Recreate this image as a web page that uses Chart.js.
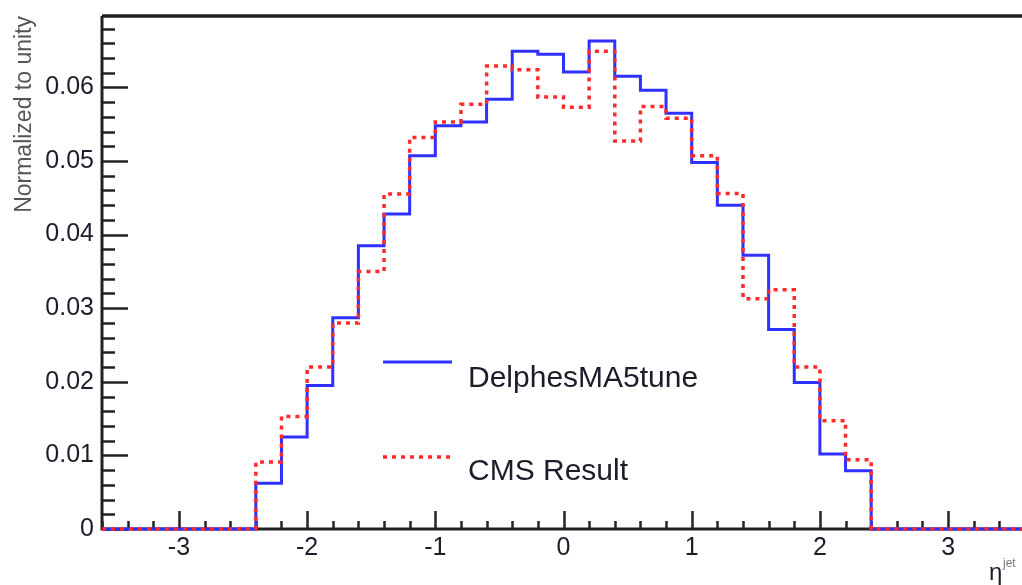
<!DOCTYPE html>
<html>
<head>
<meta charset="utf-8">
<script src="https://cdn.jsdelivr.net/npm/chart.js@4/dist/chart.umd.min.js"></script>
<style>
  html, body { margin: 0; padding: 0; background: #fff; overflow: hidden; }
  #wrap { width: 1022px; height: 585px; overflow: hidden; }
  canvas { display: block; }
</style>
</head>
<body>
<div id="wrap"><canvas id="histo" width="1030" height="585" style="width:1030px;height:585px"></canvas></div>
<script>
// eta bins, width 0.2, lower edges
const binLowEdges = [-2.4, -2.2, -2.0, -1.8, -1.6, -1.4, -1.2, -1.0, -0.8, -0.6, -0.4, -0.2,
                     0.0, 0.2, 0.4, 0.6, 0.8, 1.0, 1.2, 1.4, 1.6, 1.8, 2.0, 2.2];
const binUpperEdge = 2.4;

const delphes = [0.0062, 0.0125, 0.0195, 0.0287, 0.0385, 0.0428, 0.0507, 0.0548, 0.0553, 0.0584, 0.0649, 0.0645,
                 0.0621, 0.0663, 0.0615, 0.0596, 0.0565, 0.0498, 0.0440, 0.0372, 0.0271, 0.0199, 0.0102, 0.0079];
const cms = [0.0091, 0.0153, 0.0220, 0.0280, 0.0350, 0.0455, 0.0532, 0.0553, 0.0577, 0.0629, 0.0624, 0.0587,
             0.0573, 0.0649, 0.0527, 0.0574, 0.0558, 0.0507, 0.0456, 0.0313, 0.0325, 0.0220, 0.0147, 0.0094];

const xRange = [-3.6, 3.6];
const yRange = [0, 0.0697];
const xTickLabels = [-3, -2, -1, 0, 1, 2, 3];
const yTickLabels = [0, 0.01, 0.02, 0.03, 0.04, 0.05, 0.06];
const seriesNames = ["DelphesMA5tune", "CMS Result"];

const FONT = "'Liberation Sans', Arial, Helvetica, sans-serif";
const TEXT = "#1c1c2a";
const AXIS = "#222";

function histPoints(values) {
  const pts = [{ x: xRange[0], y: 0 }];
  binLowEdges.forEach((edge, i) => pts.push({ x: edge, y: values[i] }));
  pts.push({ x: binUpperEdge, y: 0 });
  pts.push({ x: xRange[1], y: 0 });
  return pts;
}

// ROOT-style frame: inward ticks, axis lines, legend, x title
const frame = {
  id: "frame",
  beforeDatasetsDraw(chart) {
    const { ctx, chartArea: a, scales: { x, y } } = chart;
    ctx.save();
    ctx.strokeStyle = AXIS;

    // minor + major ticks on y
    ctx.lineWidth = 2.5;
    for (let i = 0; i * 0.002 <= yRange[1] + 1e-9; i++) {
      const py = Math.round(y.getPixelForValue(i * 0.002)) + 0.5;
      const len = i % 5 === 0 ? 26 : 13;
      ctx.beginPath();
      ctx.moveTo(a.left, py);
      ctx.lineTo(a.left + len, py);
      ctx.stroke();
    }
    // minor + major ticks on x
    for (let i = 0; i <= 36; i++) {
      const v = xRange[0] + i * 0.2;
      const px = Math.round(x.getPixelForValue(v)) + 0.5;
      const major = Math.abs(v - Math.round(v)) < 1e-6;
      ctx.beginPath();
      ctx.moveTo(px, a.bottom);
      ctx.lineTo(px, a.bottom - (major ? 18 : 8));
      ctx.stroke();
    }

    // frame lines
    ctx.lineWidth = 3;
    ctx.beginPath();
    ctx.moveTo(a.left, a.top);
    ctx.lineTo(a.left, a.bottom);
    ctx.lineTo(a.right, a.bottom);
    ctx.stroke();
    ctx.lineWidth = 3.5;
    ctx.beginPath();
    ctx.moveTo(a.left, a.top);
    ctx.lineTo(a.right, a.top);
    ctx.stroke();
    ctx.restore();
  },
  afterDraw(chart) {
    const { ctx } = chart;
    ctx.save();
    const ds = chart.data.datasets;

    // legend
    [[362, 387], [457, 480]].forEach(([ly, ty], i) => {
      ctx.strokeStyle = ds[i].borderColor;
      ctx.lineWidth = ds[i].borderWidth;
      ctx.setLineDash(ds[i].borderDash || []);
      ctx.beginPath();
      ctx.moveTo(383, ly);
      ctx.lineTo(452, ly);
      ctx.stroke();
      ctx.setLineDash([]);
      ctx.fillStyle = TEXT;
      ctx.font = "30px " + FONT;
      ctx.textBaseline = "alphabetic";
      ctx.fillText(seriesNames[i], 468, ty);
    });

    // x axis title: eta^jet
    ctx.fillStyle = TEXT;
    ctx.font = "24px " + FONT;
    ctx.fillText("\u03b7", 989, 580);
    ctx.fillStyle = "#777";
    ctx.font = "12px " + FONT;
    ctx.fillText("jet", 1003, 567);
    ctx.restore();
  }
};

new Chart(document.getElementById("histo"), {
  type: "line",
  data: {
    datasets: [
      {
        label: seriesNames[0],
        data: histPoints(delphes),
        borderColor: "#3030ff",
        borderWidth: 3,
        stepped: true,
        pointRadius: 0,
        fill: false,
        clip: 6,
        order: 2
      },
      {
        label: seriesNames[1],
        data: histPoints(cms),
        borderColor: "#ff2a2a",
        borderWidth: 3.5,
        borderDash: [4, 5],
        stepped: true,
        pointRadius: 0,
        fill: false,
        clip: 6,
        order: 1
      }
    ]
  },
  options: {
    responsive: false,
    animation: false,
    devicePixelRatio: 1,
    layout: { padding: { left: 0, top: 16, right: 5, bottom: 0 } },
    plugins: { legend: { display: false }, tooltip: { enabled: false } },
    scales: {
      x: {
        type: "linear",
        min: xRange[0],
        max: xRange[1],
        grid: { display: false, drawTicks: false },
        border: { display: false },
        afterBuildTicks: axis => { axis.ticks = xTickLabels.map(v => ({ value: v })); },
        afterFit: axis => { axis.height = 56; axis.paddingLeft = 0; axis.paddingRight = 0; },
        ticks: {
          color: TEXT,
          padding: 4,
          maxRotation: 0,
          font: { family: FONT, size: 25 },
          callback: v => String(v)
        }
      },
      y: {
        type: "linear",
        min: yRange[0],
        max: yRange[1],
        grid: { display: false, drawTicks: false },
        border: { display: false },
        afterBuildTicks: axis => { axis.ticks = yTickLabels.map(v => ({ value: v })); },
        afterFit: axis => { axis.width = 102; axis.paddingTop = 0; axis.paddingBottom = 0; },
        ticks: {
          color: TEXT,
          padding: 8,
          font: { family: FONT, size: 25 },
          callback: v => (v === 0 ? "0" : v.toFixed(2))
        },
        title: {
          display: true,
          text: "Normalized to unity",
          align: "end",
          color: "#555",
          font: { family: FONT, size: 23 },
          padding: { top: 11, bottom: 0 }
        }
      }
    }
  },
  plugins: [frame]
});
</script>
</body>
</html>
